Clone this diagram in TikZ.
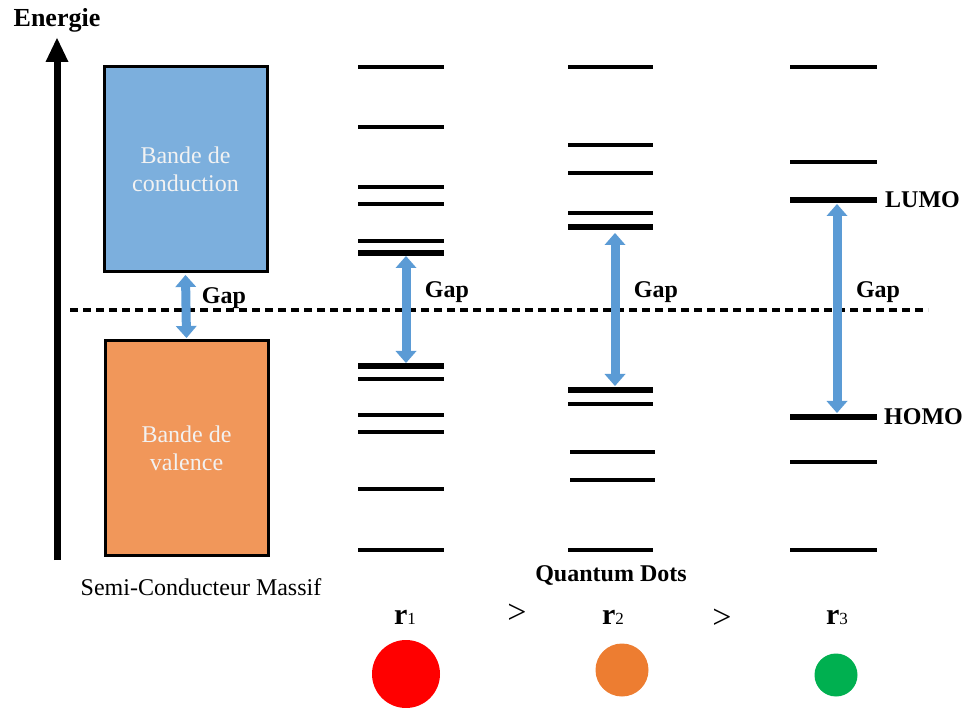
\documentclass[tikz,border=0pt]{standalone}
\usepackage{fontspec}
\setmainfont{Liberation Serif}
\usetikzlibrary{arrows.meta}
\definecolor{cband}{HTML}{7CAFDD}
\definecolor{vband}{HTML}{F1975A}
\definecolor{gapblue}{HTML}{5B9BD5}
\definecolor{qdred}{HTML}{FF0000}
\definecolor{qdorange}{HTML}{ED7D31}
\definecolor{qdgreen}{HTML}{00B050}
\begin{document}
\begin{tikzpicture}[x=1pt,y=-1pt,
  lvl/.style={line width=3.3pt},
  lvlthick/.style={line width=5.3pt},
  gaptip/.tip={Triangle[width=21pt,length=12pt,line width=0pt]},
  gaparrow/.style={draw=gapblue, fill=gapblue, line width=9pt, gaptip-gaptip},
  band/.style={draw=black, line width=3pt, minimum width=163pt, text=white!95!black, align=center,
    font=\fontsize{24}{28}\selectfont},
  boldlbl/.style={font=\fontsize{24}{28}\selectfont\bfseries, inner sep=0pt},
  plainlbl/.style={font=\fontsize{24}{28}\selectfont, inner sep=0pt},
  rlbl/.style={inner sep=0pt},
  gtlbl/.style={font=\fontsize{34}{36}\selectfont, inner sep=0pt},
  dot/.style={circle, inner sep=0pt, draw=none}
]
\useasboundingbox (0,0) rectangle (964,708);

% energy axis
\node[boldlbl, font=\fontsize{26}{30}\selectfont\bfseries] (energie) at (57,20) {Energie};
\coordinate (axb) at (57,560);
\coordinate (axt) at (57,38);
\draw[line width=7pt, -{Triangle[width=23pt,length=24pt,line width=0pt]}] (axb) -- (axt);

% bulk bands
\node[band, fill=cband, minimum height=205pt] (cb) at (185.5,169.5) {Bande de\\conduction};
\node[band, fill=vband, minimum height=214pt] (vb) at (186.5,448) {Bande de\\valence};
\node[plainlbl] (massif) at (201,587) {Semi-Conducteur Massif};

% dashed reference line
\coordinate (dl) at (70,310);
\coordinate (dr) at (928,310);
\draw[line width=3.5pt, dash pattern=on 8pt off 5pt] (dl) -- (dr);

% gap arrow bulk
\draw[gaparrow] ([yshift=-1.5pt]cb.south) -- ([yshift=1.5pt]vb.north);
\node[boldlbl, anchor=base] (gap0) at (224,304) {Gap};

% column 1 levels
\foreach \y in {67,127,187,204,241,379,415,432,489,550}
  \draw[lvl] (358,\y) -- (444,\y);
\foreach \y in {253,366}
  \draw[lvlthick] (358,\y) -- (444,\y);
\coordinate (l1) at (406,256);
\coordinate (h1) at (406,363);
\draw[gaparrow] (l1) -- (h1);
\node[boldlbl, anchor=base] (gap1) at (447,298) {Gap};

% column 2 levels
\foreach \y in {67,145,173,213,404,550}
  \draw[lvl] (568,\y) -- (653,\y);
\foreach \y in {452,480}
  \draw[lvl] (570,\y) -- (655,\y);
\foreach \y in {227,390}
  \draw[lvlthick] (568,\y) -- (653,\y);
\coordinate (l2) at (615,233);
\coordinate (h2) at (615,386);
\draw[gaparrow] (l2) -- (h2);
\node[boldlbl, anchor=base] (gap2) at (656,298) {Gap};

% column 3 levels
\foreach \y in {67,162,462,550}
  \draw[lvl] (790,\y) -- (877,\y);
\foreach \y in {200,417}
  \draw[lvlthick] (790,\y) -- (877,\y);
\coordinate (l3) at (837,204);
\coordinate (h3) at (837,413);
\draw[gaparrow] (l3) -- (h3);
\node[boldlbl, anchor=base] (gap3) at (878,298) {Gap};
\node[boldlbl, anchor=west] (lumo) at (885,200) {LUMO};
\node[boldlbl, anchor=west] (homo) at (884,417) {HOMO};

% quantum dots
\node[boldlbl] (qd) at (611,575) {Quantum Dots};
\node[rlbl] (r1) at (405,617) {{\fontsize{30}{32}\selectfont\bfseries r}{\fontsize{17}{18}\selectfont 1}};
\node[rlbl] (r2) at (613,617) {{\fontsize{30}{32}\selectfont\bfseries r}{\fontsize{17}{18}\selectfont 2}};
\node[rlbl] (r3) at (837,617) {{\fontsize{30}{32}\selectfont\bfseries r}{\fontsize{17}{18}\selectfont 3}};
\node[gtlbl] (gt1) at (517,614) {>};
\node[gtlbl] (gt2) at (722,619) {>};
\node[dot, fill=qdred, minimum size=68pt] (d1) at (406,674) {};
\node[dot, fill=qdorange, minimum size=53pt] (d2) at (622,670) {};
\node[dot, fill=qdgreen, minimum size=43pt] (d3) at (836,675) {};
\end{tikzpicture}
\end{document}
